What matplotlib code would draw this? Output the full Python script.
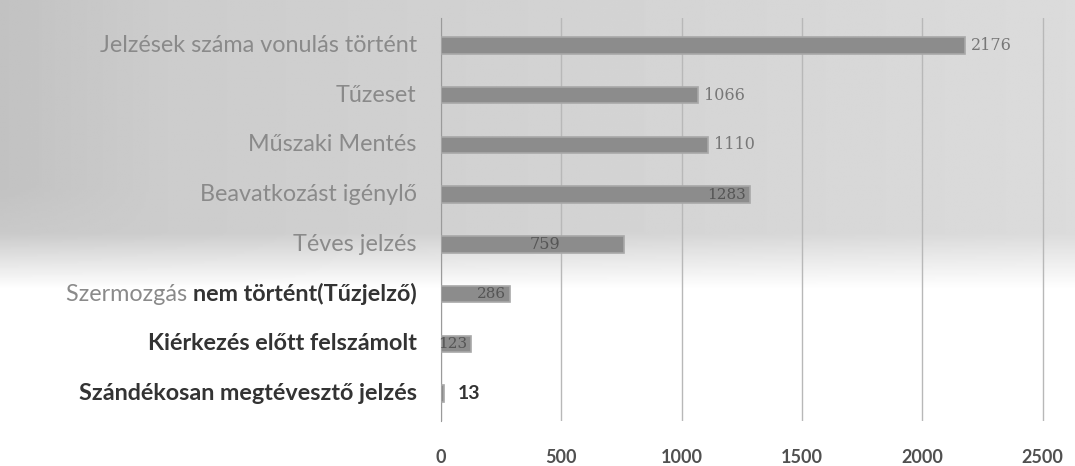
import numpy as np
import matplotlib
matplotlib.use("Agg")
import matplotlib.pyplot as plt

categories = [
    "Jelzések száma vonulás történt",
    "Tűzeset",
    "Műszaki Mentés",
    "Beavatkozást igénylő",
    "Téves jelzés",
    "Szermozgás nem történt(Tűzjelző)",
    "Kiérkezés előtt felszámolt",
    "Szándékosan megtévesztő jelzés",
]
values = [2176, 1066, 1110, 1283, 759, 286, 123, 13]
xticks = [0, 500, 1000, 1500, 2000, 2500]

W, H = 1075, 466
fig = plt.figure(figsize=(W / 100, H / 100), dpi=100)

# background gradient (scanned grey upper part fading to white)
bg = fig.add_axes([0, 0, 1, 1], zorder=0)
yy, xx = np.mgrid[0:1:200j, 0:1:400j]
fade = np.clip((0.62 - yy) / 0.12, 0, 1)
left_extra = np.clip((0.15 - xx) / 0.15, 0, 1) * np.clip((0.5 - yy) / 0.1, 0, 1)
gray = 0.79 + 0.07 * xx
img = 1 - (1 - gray) * fade
img = np.clip(img - 0.03 * left_extra, 0, 1)
bg.imshow(img, cmap="gray", vmin=0, vmax=1, aspect="auto", extent=[0, 1, 0, 1], origin="upper")
bg.set_axis_off()

ax = fig.add_axes([441 / W, 1 - 421 / H, (1050 - 441) / W, (421 - 18) / H], zorder=1)
ax.patch.set_alpha(0)

y = np.arange(len(categories))
ax.barh(y, values, height=0.33, color="#8c8c8c", edgecolor="#a8a8a8",
        linewidth=1.2, zorder=3)
ax.set_ylim(len(categories) - 0.45, -0.55)
ax.set_xlim(0, 2530)
ax.set_xticks(xticks)
ax.set_xticklabels([str(t) for t in xticks], fontfamily="Lato", fontsize=13,
                   color="#505050", fontweight="bold")
ax.tick_params(axis="x", length=0, pad=20)
ax.tick_params(axis="y", length=0)
ax.set_yticks([])
ax.grid(axis="x", color="#b8b8b8", linewidth=1.0, zorder=1)
for s in ["top", "right", "bottom"]:
    ax.spines[s].set_visible(False)
ax.spines["left"].set_color("#9a9a9a")

# category labels
label_style_gray = dict(color="#8a8a8a", fontweight="normal")
label_style_dark = dict(color="#333333", fontweight="bold")
styles = ["gray"] * 5 + ["mixed", "dark", "dark"]
FS = 16.8
for i, (cat, st) in enumerate(zip(categories, styles)):
    kw = dict(transform=ax.get_yaxis_transform(), ha="right", va="center",
              fontfamily="Lato", fontsize=FS)
    if st == "gray":
        ax.text(-0.04, i, cat, **kw, **label_style_gray)
    elif st == "dark":
        ax.text(-0.04, i, cat, **kw, **label_style_dark)
    else:
        first, rest = cat.split(" ", 1)
        t = ax.text(-0.04, i, rest, **kw, **label_style_dark)
        ax.annotate(first + " ", xy=(0, 0.5), xycoords=t, ha="right", va="center",
                    fontfamily="Lato", fontsize=FS, **label_style_gray)

# value labels
pos = ["out", "out", "out", "inend", "mid", "inend", "inend", "outdark"]
for i, (v, p) in enumerate(zip(values, pos)):
    if p == "out":
        ax.text(v + 25, i, str(v), ha="left", va="center", fontfamily="DejaVu Serif",
                fontsize=11.5, color="#777777", zorder=4)
    elif p == "outdark":
        ax.text(v + 55, i, str(v), ha="left", va="center", fontfamily="Lato",
                fontsize=14, color="#333333", fontweight="bold", zorder=4)
    elif p == "mid":
        ax.text(v * 0.57, i, str(v), ha="center", va="center", fontfamily="DejaVu Serif",
                fontsize=11.5, color="#555555", zorder=4)
    else:
        ax.text(v - 15, i, str(v), ha="right", va="center", fontfamily="DejaVu Serif",
                fontsize=11, color="#555555", zorder=4)

fig.savefig("out.png", dpi=100)
